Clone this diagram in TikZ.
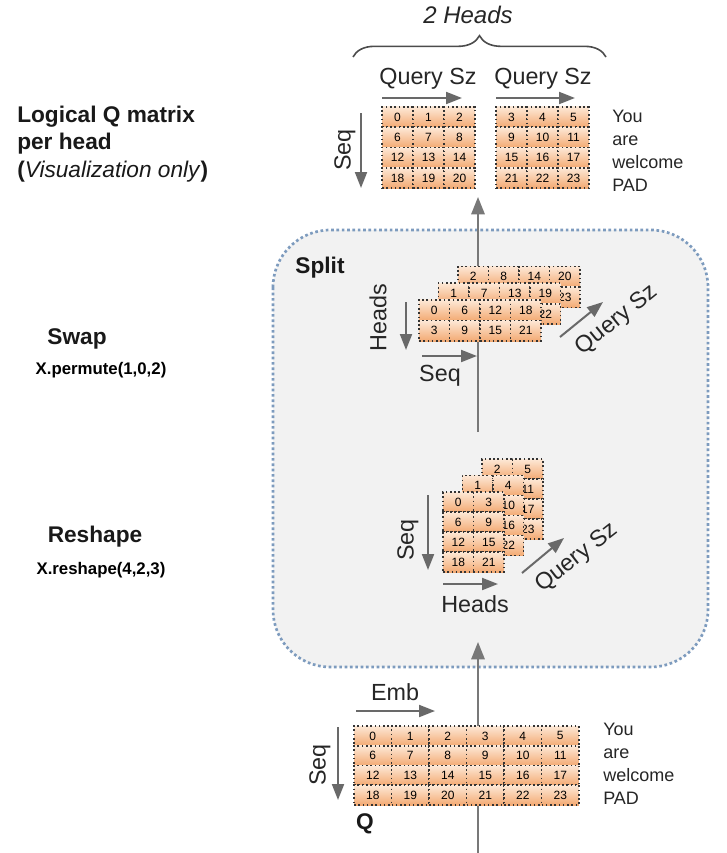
\documentclass[tikz,border=0pt]{standalone}
\usepackage{fontspec}
\setmainfont{Liberation Sans}
\usetikzlibrary{arrows.meta,decorations.pathreplacing,positioning}

\definecolor{cellhi}{RGB}{253,232,214}
\definecolor{celllo}{RGB}{243,170,115}
\definecolor{boxfill}{RGB}{242,242,242}
\definecolor{boxline}{RGB}{125,155,190}
\definecolor{arrowgray}{RGB}{105,105,105}

\tikzstyle{cellbox}=[shape=rectangle,
                draw=black!80,
                dotted,
                line width=1.2pt,
                top color=cellhi,
                bottom color=celllo,
                inner sep=0pt,
                font=\fontsize{9}{9}\selectfont]
\tikzstyle{dimarrow}=[-{Triangle[length=12pt,width=9pt]},
                draw=arrowgray,
                line width=1.5pt]
\tikzstyle{flowarrow}=[-{Triangle[length=13pt,width=10pt]},
                draw=arrowgray!90,
                line width=1.5pt]
\tikzstyle{lbl}=[font=\fontsize{17.5}{20}\selectfont,
                text=black!85,
                inner sep=0pt]
\tikzstyle{boldlbl}=[font=\bfseries\fontsize{17}{20}\selectfont,
                text=black!90,
                inner sep=0pt]
\tikzstyle{codelbl}=[font=\bfseries\fontsize{12.6}{14}\selectfont,
                inner sep=0pt]
\tikzstyle{padtext}=[font=\fontsize{13.5}{17.2}\selectfont,
                text=black!85,
                align=left,
                anchor=west,
                inner sep=0pt]

\begin{document}
\begin{tikzpicture}[x=0.75pt,y=-0.75pt]

\path[fill=white] (0,0) rectangle (727,853);
\useasboundingbox (0,0) rectangle (727,853);

% split box
\draw[boxline, fill=boxfill, dotted, line width=2pt, rounded corners=43pt]
      (273,230) rectangle (708,667);
\node[boldlbl] (split) at (320,268) {Split};

% flow lines
\coordinate (qout)     at (478,853);
\coordinate (splitin)  at (478,642);
\coordinate (splitout) at (478,432);
\coordinate (headsin)  at (478,197);
\draw[flowarrow] (qout) -- (splitin);
\draw[flowarrow] (splitout) -- (headsin);

% logical Q matrix per head
\foreach \h in {0,1} {
  \foreach \r in {0,...,3} {
    \foreach \c in {0,1,2} {
      \pgfmathtruncatemacro{\v}{\r*6+\h*3+\c}
      \node[cellbox, minimum width=23.25pt, minimum height=15.2pt]
        (hd\h\r\c) at ({382+114*\h+31*(\c+0.5)}, {107+20.25*(\r+0.5)}) {\v};
    }
  }
}
\draw[decorate, decoration={brace, amplitude=16pt}, draw=black!70, line width=1.2pt]
      (353,57) -- (606,57);
\node[lbl, font=\itshape\fontsize{18}{20}\selectfont] (nheads) at (468,15) {2 Heads};
\coordinate (qsa1) at (382,98);  \coordinate (qsb1) at (462,98);
\coordinate (qsa2) at (496,98);  \coordinate (qsb2) at (575,98);
\draw[dimarrow] (qsa1) -- (qsb1);
\draw[dimarrow] (qsa2) -- (qsb2);
\node[lbl] (qsz1) at (428,79) {Query Sz};
\node[lbl] (qsz2) at (543,79) {Query Sz};
\coordinate (sqa) at (361,113);  \coordinate (sqb) at (361,188);
\draw[dimarrow] (sqa) -- (sqb);
\node[lbl, rotate=90] (seqtop) at (345,150) {Seq};
\node[padtext] (padtop) at (612,151) {You\\are\\welcome\\PAD};

% swap (back layers first, hidden cells get no number)
\foreach \l in {2,1,0} {
  \foreach \r in {0,1} {
    \foreach \c in {0,...,3} {
      \pgfmathtruncatemacro{\v}{\c*6+\r*3+\l}
      \pgfmathtruncatemacro{\vis}{(\l==0)||(\r==0)||(\c==3)}
      \node[cellbox, minimum width=22.9pt, minimum height=15.4pt]
        (sw\l\r\c) at ({419+19.5*\l+30.5*(\c+0.5)}, {300-16.75*\l+20.5*(\r+0.5)})
        {\ifnum\vis=1 \v\fi};
    }
  }
}
\coordinate (hda) at (406,302);  \coordinate (hdb) at (406,350);
\draw[dimarrow] (hda) -- (hdb);
\node[lbl, rotate=90] (headsw) at (378,318) {Heads};
\coordinate (ssa) at (422,356);  \coordinate (ssb) at (477,356);
\draw[dimarrow] (ssa) -- (ssb);
\node[lbl] (seqsw) at (440,376) {Seq};
\coordinate (qda) at (560,337);  \coordinate (qdb) at (603,302);
\draw[dimarrow] (qda) -- (qdb);
\node[lbl, rotate=39] (qszsw) at (617,320) {Query Sz};

% reshape
\foreach \l in {2,1,0} {
  \foreach \r in {0,...,3} {
    \foreach \c in {0,1} {
      \pgfmathtruncatemacro{\v}{\r*6+\c*3+\l}
      \pgfmathtruncatemacro{\vis}{(\l==0)||(\r==0)||(\c==1)}
      \node[cellbox, minimum width=22.9pt, minimum height=15pt]
        (rs\l\r\c) at ({443+19.5*\l+30.5*(\c+0.5)}, {492-16.5*\l+20*(\r+0.5)})
        {\ifnum\vis=1 \v\fi};
    }
  }
}
\coordinate (rsa) at (428,495);  \coordinate (rsb) at (428,570);
\draw[dimarrow] (rsa) -- (rsb);
\node[lbl, rotate=90] (seqrs) at (408,540) {Seq};
\coordinate (rha) at (443,584);  \coordinate (rhb) at (498,584);
\draw[dimarrow] (rha) -- (rhb);
\node[lbl] (headrs) at (475,604) {Heads};
\coordinate (rqa) at (522,573);  \coordinate (rqb) at (564,538);
\draw[dimarrow] (rqa) -- (rqb);
\node[lbl, rotate=38] (qszrs) at (577,558) {Query Sz};

% Q input
\foreach \r in {0,...,3} {
  \foreach \c in {0,...,5} {
    \pgfmathtruncatemacro{\v}{\r*6+\c}
    \node[cellbox, minimum width=28.1pt, minimum height=14.8pt]
      (q\r\c) at ({354+37.5*(\c+0.5)}, {726+19.75*(\r+0.5)}) {\v};
  }
}
\coordinate (ema) at (356,711);  \coordinate (emb) at (435,711);
\draw[dimarrow] (ema) -- (emb);
\node[lbl] (emblbl) at (395,692) {Emb};
\coordinate (qqa) at (338,727);  \coordinate (qqb) at (338,800);
\draw[dimarrow] (qqa) -- (qqb);
\node[lbl, rotate=90] (seqq) at (320,765) {Seq};
\node[boldlbl] (qname) at (365,824) {Q};
\node[padtext] (padq) at (603,764) {You\\are\\welcome\\PAD};

% left column
\node[boldlbl, anchor=base west] (logic1) at (17,122) {Logical Q matrix};
\node[boldlbl, anchor=base west] (logic2) at (17,149) {per head};
\node[boldlbl, anchor=base west] (logic3) at (17,177)
      {(\mdseries\itshape Visualization only\/\upshape\bfseries)};
\node[boldlbl] (swap) at (77,339) {Swap};
\node[codelbl] (swapcode) at (101,370) {X.permute(1,0,2)};
\node[boldlbl] (reshape) at (95,537) {Reshape};
\node[codelbl] (reshapecode) at (101,570) {X.reshape(4,2,3)};

\end{tikzpicture}
\end{document}
